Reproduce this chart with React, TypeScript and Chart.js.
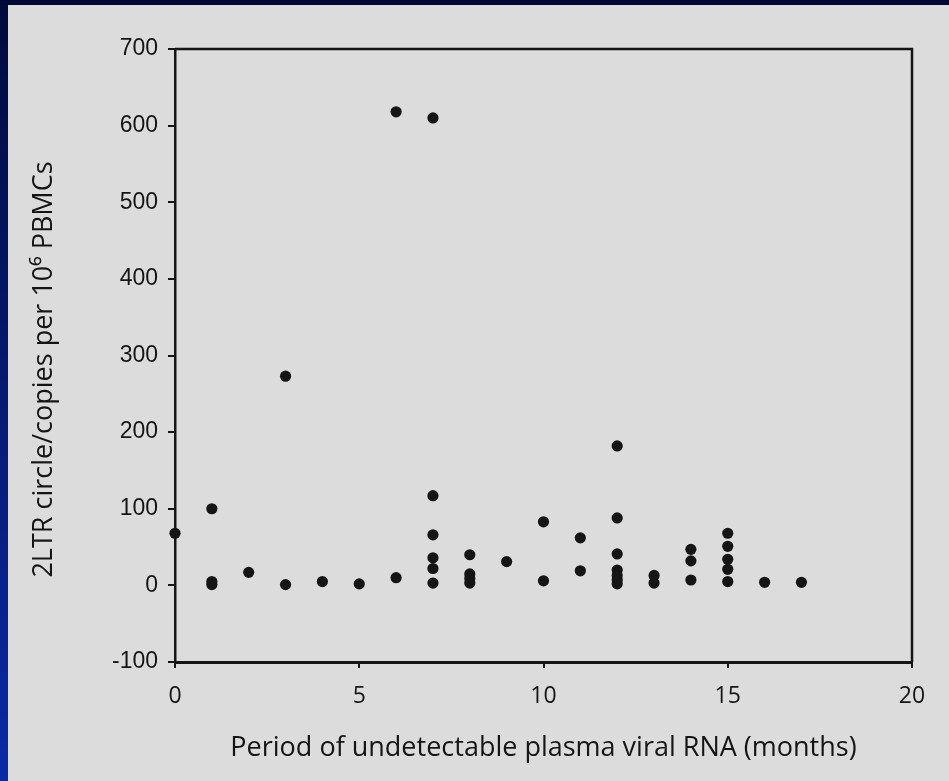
import React, { useEffect, useRef } from "react";
import { Chart, registerables } from "chart.js";

Chart.register(...registerables);

// Period of undetectable plasma viral RNA (months)
const months: number[] = [
  0, 1, 1, 1, 2, 3, 3, 4, 5, 6, 6, 7, 7, 7, 7, 7, 7, 8, 8, 8, 8, 9, 10, 10, 11, 11,
  12, 12, 12, 12, 12, 12, 12, 13, 13, 14, 14, 14, 15, 15, 15, 15, 15, 16, 17,
];
// 2LTR circle copies per 10^6 PBMCs
const copies: number[] = [
  68, 100, 5, 1, 17, 273, 1, 5, 2, 618, 10, 610, 117, 66, 36, 22, 3, 40, 15, 9, 3, 31, 83, 6, 62, 19,
  182, 88, 41, 20, 13, 7, 2, 13, 3, 47, 32, 7, 68, 51, 34, 21, 5, 4, 4,
];

const xTitle = "Period of undetectable plasma viral RNA (months)";
const yTitle = "2LTR circle/copies per 10\u2076 PBMCs\u00a0\u00a0\u00a0\u00a0";
const xMin = 0, xMax = 20, xStep = 5;
const yMin = -100, yMax = 700, yStep = 100;

const INK = "#151515";
const TITLE_FONT = "'Open Sans', 'Liberation Sans', sans-serif";
const TICK_FONT = "'Liberation Sans', Arial, sans-serif";

const frame = {
  id: "frame",
  afterDatasetsDraw(chart: any) {
    const { ctx, chartArea: a } = chart;
    ctx.save();
    ctx.strokeStyle = INK;
    ctx.lineWidth = 2.5;
    ctx.beginPath();
    ctx.moveTo(a.left, a.top);
    ctx.lineTo(a.right, a.top);
    ctx.lineTo(a.right, a.bottom);
    ctx.stroke();
    ctx.restore();
  },
};

export default function App() {
  const ref = useRef<HTMLCanvasElement | null>(null);
  useEffect(() => {
    if (!ref.current) return;
    const chart = new Chart(ref.current, {
      type: "scatter",
      data: {
        datasets: [
          {
            data: months.map((m, i) => ({ x: m, y: copies[i] })),
            pointRadius: 5.6,
            pointBackgroundColor: INK,
            pointBorderWidth: 0,
            clip: false as any,
          },
        ],
      },
      options: {
        animation: false,
        responsive: false,
        maintainAspectRatio: false,
        layout: { padding: { top: 49, right: 37, left: 0, bottom: 0 } },
        plugins: { legend: { display: false }, tooltip: { enabled: false } },
        scales: {
          x: {
            type: "linear",
            min: xMin,
            max: xMax,
            ticks: { stepSize: xStep, color: INK, font: { family: TITLE_FONT, size: 23 }, padding: 15 },
            grid: { drawOnChartArea: false, tickLength: 6, color: INK, lineWidth: 2 },
            border: { color: INK, width: 3 },
            title: {
              display: true,
              text: xTitle,
              color: INK,
              font: { family: TITLE_FONT, size: 27 },
              padding: { top: 0, bottom: 16 },
            },
            afterFit(s: any) {
              s.height = 119;
            },
          },
          y: {
            type: "linear",
            min: yMin,
            max: yMax,
            ticks: { stepSize: yStep, color: INK, font: { family: TICK_FONT, size: 23 }, padding: 10 },
            grid: { drawOnChartArea: false, tickLength: 7, color: INK, lineWidth: 2 },
            border: { color: INK, width: 2.5 },
            title: {
              display: true,
              text: yTitle,
              color: INK,
              font: { family: TITLE_FONT, size: 27 },
              padding: { top: 28, bottom: 0 },
            },
            afterFit(s: any) {
              s.width = 175;
            },
          },
        },
      },
      plugins: [frame],
    });
    return () => chart.destroy();
  }, []);

  return (
    <div style={{ position: "relative", width: 949, height: 781, background: "#dcdcdc", overflow: "hidden" }}>
      <style>{`body{margin:0}`}</style>
      <div
        style={{
          position: "absolute",
          left: 0,
          top: 0,
          width: 8,
          height: 781,
          background: "linear-gradient(#000a3c, #0a2aa6)",
        }}
      />
      <div style={{ position: "absolute", left: 0, top: 0, width: 949, height: 5, background: "#000838" }} />
      <canvas ref={ref} width={949} height={781} style={{ position: "absolute", left: 0, top: 0 }} />
    </div>
  );
}
